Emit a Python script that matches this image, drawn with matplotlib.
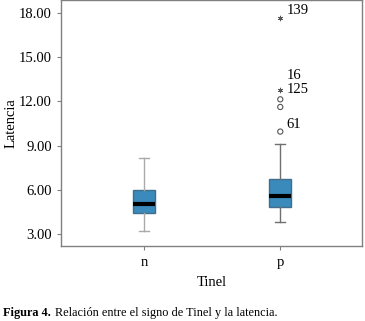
import numpy as np
import matplotlib
matplotlib.use('Agg')
import matplotlib.pyplot as plt

plt.rcParams['font.family'] = ['Liberation Serif', 'DejaVu Serif']

groups = ['n', 'p']
q1 = [4.43, 4.84]
med = [5.04, 5.60]
q3 = [6.00, 6.74]
whislo = [3.20, 3.82]
whishi = [8.17, 9.12]

# outliers of group p
circ_vals = [9.95, 11.62, 12.14]
star_vals = [12.78, 17.64]
labels = [('139', 18.2), ('16', 13.73), ('125', 12.78), ('61', 10.4)]
yticks = [3, 6, 9, 12, 15, 18]

fig = plt.figure(figsize=(3.65, 3.21), dpi=100)
ax = fig.add_axes([61/365, 1 - 246/321, 301/365, 246/321])

stats = []
for i in range(len(groups)):
    stats.append(dict(q1=q1[i], med=med[i], q3=q3[i], whislo=whislo[i],
                      whishi=whishi[i], fliers=[], label=groups[i]))

bp = ax.bxp(stats, positions=[1, 2], widths=0.16, patch_artist=True,
            showfliers=False, capwidths=0.075)
for b in bp['boxes']:
    b.set_facecolor('#3a8abb')
    b.set_edgecolor('#3f6f8c')
    b.set_linewidth(1.0)
for m in bp['medians']:
    m.set_color('black')
    m.set_linewidth(3)
wcol = ['#aaaaaa', '#707070']
for i in range(2):
    for w in bp['whiskers'][2*i:2*i+2]:
        w.set_color(wcol[i])
        w.set_linewidth(1)
    for c in bp['caps'][2*i:2*i+2]:
        c.set_color(wcol[i])
        c.set_linewidth(1)

ax.scatter([2]*len(circ_vals), circ_vals, s=14, facecolors='none',
           edgecolors='#555555', linewidths=0.8, zorder=3)
ax.scatter([2]*len(star_vals), star_vals, s=12, marker=(6, 2, 0),
           color='#555555', linewidths=0.6, zorder=3)
for txt, v in labels:
    ax.annotate(txt, (2, v), xytext=(4.3, 0), textcoords='offset points',
                fontsize=10.5, va='center')

ax.set_xlim(0.39, 2.60)
ax.set_ylim(2.185, 18.88)
ax.set_yticks(yticks)
ax.set_yticklabels(['%.2f' % t for t in yticks], fontsize=10.5)
ax.set_xticks([1, 2])
ax.set_xticklabels(groups, fontsize=10.5)
ax.tick_params(colors='#808080', labelcolor='black', length=3, width=0.8)
ax.tick_params(axis='x', pad=4)
for s in ax.spines.values():
    s.set_color('#808080')
    s.set_linewidth(1)
ax.set_ylabel('Latencia', fontsize=10.5, labelpad=1)
ax.set_xlabel('Tinel', fontsize=10.5, labelpad=5)

fig.text(3/365, 1 - 313/321, 'Figura 4.', fontsize=8.8, va='center',
         fontweight='bold')
fig.text(55/365, 1 - 313/321, 'Relación entre el signo de Tinel y la latencia.',
         fontsize=8.8, va='center')

fig.savefig('out.png', dpi=100)
